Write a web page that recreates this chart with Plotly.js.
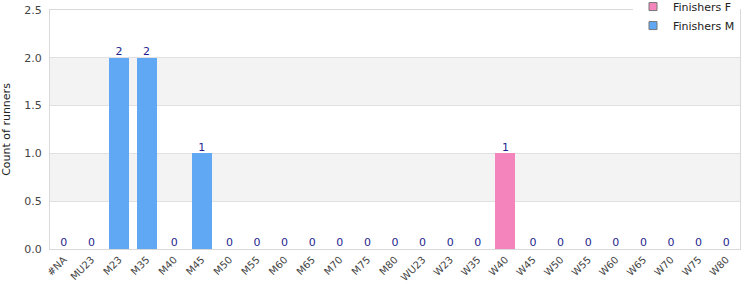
<!DOCTYPE html>
<html><head><meta charset="utf-8">
<script src="https://cdn.plot.ly/plotly-3.0.1.min.js"></script>
<style>html,body{margin:0;padding:0;background:#fff}#chart{width:750px;height:300px}</style>
</head><body><div id="chart"></div>
<script>
const categories = ["#NA","MU23","M23","M35","M40","M45","M50","M55","M60","M65","M70","M75","M80","WU23","W23","W35","W40","W45","W50","W55","W60","W65","W70","W75","W80"];
const finishersF = [0,0,0,0,0,0,0,0,0,0,0,0,0,0,0,0,1,0,0,0,0,0,0,0,0];
const finishersM = [0,0,2,2,0,1,0,0,0,0,0,0,0,0,0,0,0,0,0,0,0,0,0,0,0];
const seriesNames = ["Finishers F","Finishers M"];
const colF = '#f485bc', colM = '#60a8f4';
const totals = categories.map((c,i)=>finishersF[i]+finishersM[i]);

const traces = [
  {type:'bar', name:seriesNames[0], x:categories, y:finishersF, marker:{color:colF, line:{width:0}}, showlegend:false, hoverinfo:'x+y'},
  {type:'bar', name:seriesNames[1], x:categories, y:finishersM, marker:{color:colM, line:{width:0}}, showlegend:false, hoverinfo:'x+y'},
  {type:'scatter', mode:'text', x:categories, y:totals, text:totals.map(String), textposition:'top center',
   textfont:{family:'DejaVu Sans', size:11, color:'#1f1f8f'}, showlegend:false, hoverinfo:'skip', cliponaxis:false},
  {type:'scatter', mode:'markers', name:seriesNames[0], x:[categories[0]], y:[null], marker:{symbol:'square', size:8, color:colF, line:{color:'#777', width:1}}, showlegend:true},
  {type:'scatter', mode:'markers', name:seriesNames[1], x:[categories[0]], y:[null], marker:{symbol:'square', size:8, color:colM, line:{color:'#777', width:1}}, showlegend:true}
];

const bands = [[0.5,1.0],[1.5,2.0]].map(b=>({type:'rect', xref:'paper', yref:'y', x0:0, x1:1, y0:b[0], y1:b[1], fillcolor:'#f3f3f3', line:{width:0}, layer:'below'}));

const layout = {
  width:750, height:300,
  margin:{l:50, r:10, t:10, b:51, autoexpand:false},
  barmode:'stack', bargap:0.27,
  paper_bgcolor:'#fff', plot_bgcolor:'#fff',
  font:{family:'DejaVu Sans', size:11, color:'#444'},
  shapes:bands,
  xaxis:{type:'category', categoryarray:categories, range:[-0.5, categories.length-0.5], tickangle:-45, tickfont:{size:10, color:'#444'}, showline:true, linecolor:'#d9d9d9', linewidth:1, mirror:true, showgrid:false, ticks:'', fixedrange:true, automargin:false},
  yaxis:{range:[0,2.5], dtick:0.5, tickformat:'.1f', tickfont:{size:11, color:'#444'}, gridcolor:'#e0e0e0', showline:true, linecolor:'#d9d9d9', mirror:true, zeroline:false, ticks:'', ticklabelstandoff:5, automargin:false,
         title:{text:'Count of runners', font:{size:11, color:'#222'}, standoff:12}},
  legend:{x:1, xanchor:'right', xref:'paper', y:1.075, yref:'paper', yanchor:'top', bgcolor:'#fff', traceorder:'normal', font:{size:11, color:'#222'}, tracegroupgap:0, itemwidth:30},
  showlegend:true
};
Plotly.newPlot('chart', traces, layout, {displayModeBar:false, staticPlot:true});
</script></body></html>
